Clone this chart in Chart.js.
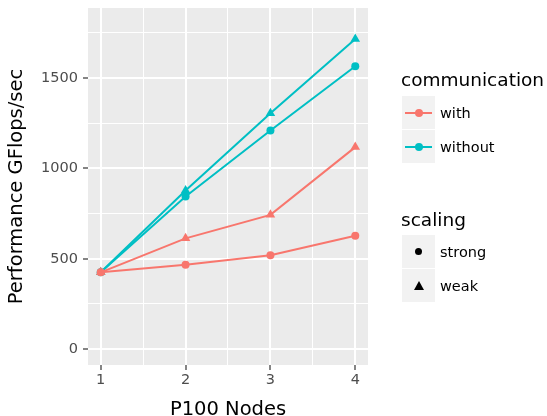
<!DOCTYPE html>
<html>
<head>
<meta charset="utf-8">
<script src="https://cdn.jsdelivr.net/npm/chart.js@4/dist/chart.umd.min.js"></script>
<style>
  html, body { margin: 0; padding: 0; background: #ffffff; }
  #wrap { position: relative; width: 547px; height: 416px; font-family: "DejaVu Sans", sans-serif; }
  canvas { position: absolute; left: 0; top: 0; }
  .lt { position: absolute; left: 401px; font-size: 18.5px; line-height: 18.5px; color: #000; white-space: nowrap; }
  .key { position: absolute; left: 402px; width: 33px; height: 33px; background: #F2F2F2; }
  .kl { position: absolute; left: 440px; font-size: 14.5px; line-height: 14.5px; color: #000; white-space: nowrap; }
  .kline { position: absolute; left: 3px; width: 27px; height: 2px; top: 15.5px; }
  .kdot { position: absolute; width: 8px; height: 8px; border-radius: 50%; left: 12.5px; top: 12.5px; }
  .sdot { position: absolute; width: 7px; height: 7px; border-radius: 50%; left: 13px; top: 13px; background: #000; }
  .stri { position: absolute; left: 11.5px; top: 11.5px; width: 0; height: 0; border-left: 5px solid transparent; border-right: 5px solid transparent; border-bottom: 9px solid #000; }
</style>
</head>
<body>
<div id="wrap">
  <canvas id="c" width="547" height="416"></canvas>
  <div class="lt" style="top:71px;">communication</div>
  <div class="key" style="top:96px;"><div class="kline" style="background:#F8766D"></div><div class="kdot" style="background:#F8766D"></div></div>
  <div class="kl" style="top:105.5px;">with</div>
  <div class="key" style="top:130px;"><div class="kline" style="background:#00BFC4"></div><div class="kdot" style="background:#00BFC4"></div></div>
  <div class="kl" style="top:139.5px;">without</div>
  <div class="lt" style="top:210.5px;">scaling</div>
  <div class="key" style="top:235px;"><div class="sdot"></div></div>
  <div class="kl" style="top:244.5px;">strong</div>
  <div class="key" style="top:269px;"><div class="stri"></div></div>
  <div class="kl" style="top:278.5px;">weak</div>
</div>
<script>
// ---- data ----
const nodes = [1, 2, 3, 4];
const withStrong    = [425, 467, 520, 627];
const withWeak      = [425, 613, 743, 1118];
const withoutStrong = [425, 845, 1210, 1566];
const withoutWeak   = [425, 878, 1306, 1717];

const xTickValues = [1, 2, 3, 4];
const xGridValues = [1, 1.5, 2, 2.5, 3, 3.5, 4];
const yTickValues = [0, 500, 1000, 1500];
const yGridValues = [0, 250, 500, 750, 1000, 1250, 1500, 1750];

const RED = '#F8766D';
const TEAL = '#00BFC4';
const FONT = 'DejaVu Sans';

function series(vals) { return nodes.map((n, i) => ({ x: n, y: vals[i] })); }
function ds(label, vals, color, shape) {
  const r = shape === 'triangle' ? 5.5 : 4;
  return {
    label: label,
    data: series(vals),
    borderColor: color,
    backgroundColor: color,
    borderWidth: 2,
    pointStyle: shape,
    pointRadius: r,
    pointBorderWidth: 0,
    pointHoverRadius: r,
    tension: 0,
    fill: false
  };
}

const panelBg = {
  id: 'panelBg',
  beforeDraw(chart) {
    const a = chart.chartArea, ctx = chart.ctx;
    ctx.save();
    ctx.fillStyle = '#EBEBEB';
    ctx.fillRect(a.left, a.top, a.right - a.left, a.bottom - a.top);
    ctx.restore();
  }
};

new Chart(document.getElementById('c'), {
  type: 'line',
  data: {
    datasets: [
      ds('with / strong', withStrong, RED, 'circle'),
      ds('with / weak', withWeak, RED, 'triangle'),
      ds('without / strong', withoutStrong, TEAL, 'circle'),
      ds('without / weak', withoutWeak, TEAL, 'triangle')
    ]
  },
  options: {
    responsive: false,
    animation: false,
    events: [],
    layout: { padding: { left: 0, right: 179, top: 8, bottom: 0 } },
    plugins: { legend: { display: false }, tooltip: { enabled: false } },
    scales: {
      x: {
        type: 'linear',
        min: 0.85,
        max: 4.15,
        afterBuildTicks: s => { s.ticks = xGridValues.map(v => ({ value: v })); },
        afterFit: s => { s.height = 51; s.paddingLeft = 0; s.paddingRight = 0; },
        border: { display: false },
        grid: {
          color: '#FFFFFF',
          lineWidth: c => (xTickValues.includes(c.tick && c.tick.value) ? 2 : 1),
          tickColor: c => (xTickValues.includes(c.tick && c.tick.value) ? '#333333' : 'rgba(0,0,0,0)'),
          tickWidth: 1.2,
          tickLength: 5
        },
        ticks: {
          autoSkip: false,
          maxRotation: 0,
          padding: 2,
          color: '#4D4D4D',
          font: { family: FONT, size: 14.5 },
          callback: v => (xTickValues.includes(v) ? String(v) : '')
        },
        title: {
          display: true,
          text: 'P100 Nodes',
          color: '#000000',
          font: { family: FONT, size: 19.5 },
          padding: { top: 0, bottom: -6 }
        }
      },
      y: {
        type: 'linear',
        min: -88,
        max: 1888,
        afterBuildTicks: s => { s.ticks = yGridValues.map(v => ({ value: v })); },
        afterFit: s => { s.width = 88; s.paddingTop = 0; s.paddingBottom = 0; },
        border: { display: false },
        grid: {
          color: '#FFFFFF',
          lineWidth: c => (yTickValues.includes(c.tick && c.tick.value) ? 2 : 1),
          tickColor: c => (yTickValues.includes(c.tick && c.tick.value) ? '#333333' : 'rgba(0,0,0,0)'),
          tickWidth: 1.2,
          tickLength: 5
        },
        ticks: {
          autoSkip: false,
          padding: 5,
          color: '#4D4D4D',
          font: { family: FONT, size: 14.5 },
          callback: v => (yTickValues.includes(v) ? String(v) : '')
        },
        title: {
          display: true,
          text: 'Performance GFlops/sec',
          color: '#000000',
          font: { family: FONT, size: 19.5 },
          padding: { top: 5, bottom: 0 }
        }
      }
    }
  },
  plugins: [panelBg]
});
</script>
</body>
</html>
